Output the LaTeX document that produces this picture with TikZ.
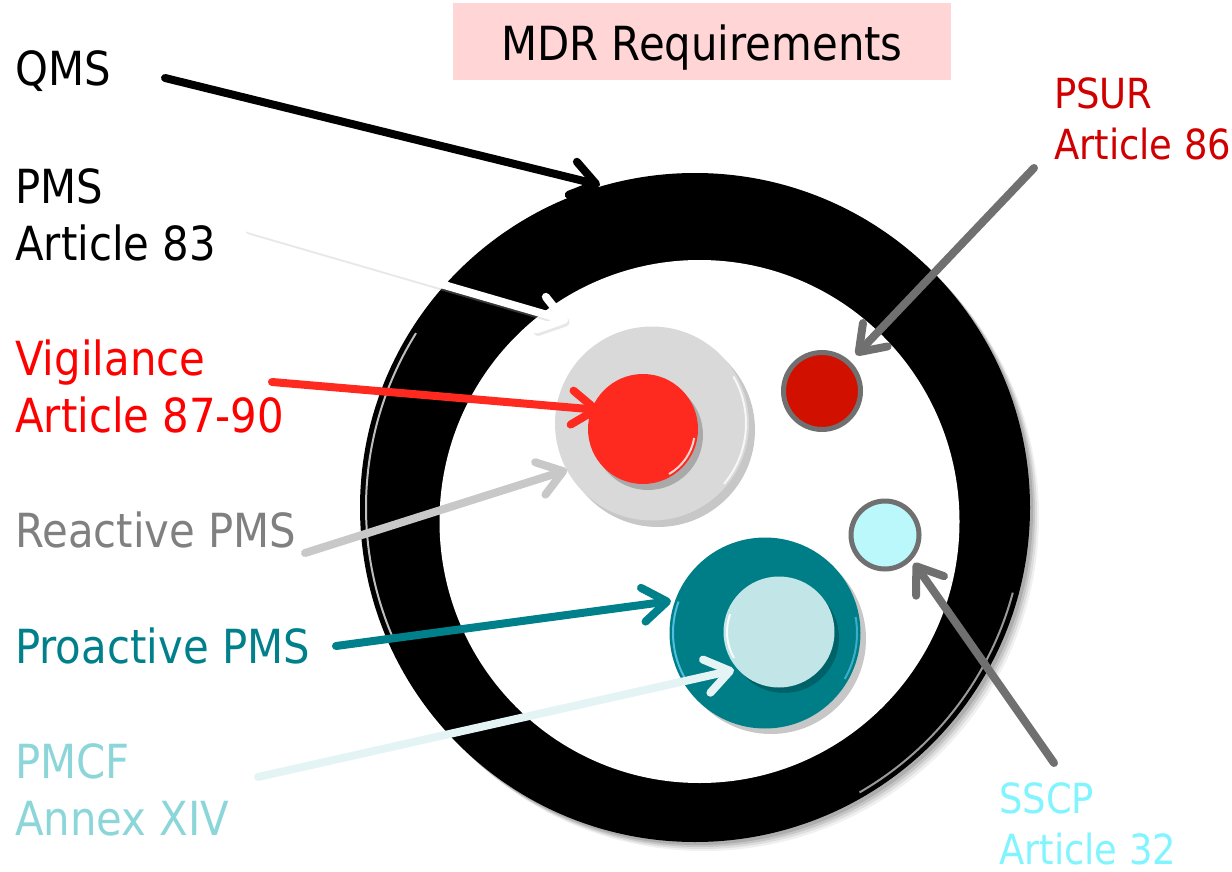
\documentclass[tikz,border=0pt]{standalone}
\usepackage{fontspec}
\setmainfont{DejaVu Sans}[FakeStretch=0.89]
\usetikzlibrary{arrows.meta}
\definecolor{pinkbox}{HTML}{FFD5D5}
\definecolor{vigred}{HTML}{FF2A1F}
\definecolor{psurred}{HTML}{D00000}
\definecolor{darkredfill}{HTML}{D21000}
\definecolor{rimgray}{HTML}{707070}
\definecolor{reactgray}{HTML}{808080}
\definecolor{reactarrow}{HTML}{C8C8C8}
\definecolor{discgray}{HTML}{D9D9D9}
\definecolor{tealc}{HTML}{00808A}
\definecolor{tealdisc}{HTML}{007E87}
\definecolor{lightteal}{HTML}{C2E6E8}
\definecolor{pmcftext}{HTML}{8CD6DA}
\definecolor{pmcfarrow}{HTML}{E4F4F5}
\definecolor{sscptext}{HTML}{80F4FF}
\definecolor{cyandisc}{HTML}{BAF8FC}
\begin{document}
\begin{tikzpicture}[x=1pt,y=-1pt,
  lbl/.style={anchor=base west, inner sep=0pt, font=\fontsize{47}{57}\selectfont, align=left},
  slbl/.style={anchor=base west, inner sep=0pt, font=\fontsize{41.5}{51}\selectfont, align=left},
  arr/.style={line width=8pt, line cap=round, -{Straight Barb[length=24pt,width=34pt,round]}},
  disc/.style={circle, inner sep=0pt},
  dshadow/.style={fill=black, opacity=0.22}]
\useasboundingbox (0,0) rectangle (1232,872);

% title
\node[fill=pinkbox, minimum width=498pt, minimum height=77pt, text height=45pt, text depth=6pt,
      inner sep=0pt, font=\fontsize{47}{57}\selectfont] (title) at (702,41.5) {MDR Requirements};

% ring with soft shadow
\foreach \d/\o in {9/0.06,7/0.08,5/0.1,3/0.12}
  \fill[black, opacity=\o] (695+\d,507.5+\d) circle[x radius=335, y radius=334.5];
\fill[black] (695,507.5) circle[x radius=335, y radius=334.5];
\fill[white] (699.5,521.5) circle[x radius=260, y radius=261.5];
\draw[white, line width=2pt, opacity=0.75] (695,507.5) ++(156:329) arc[start angle=156, end angle=212, radius=329];
\draw[white, line width=2pt, opacity=0.6] (695,507.5) ++(15:329) arc[start angle=15, end angle=60, radius=329];

% discs with shadows
\fill[dshadow] (658,430) circle[radius=97];
\node[disc, fill=discgray, minimum size=194pt] (reactive) at (652,423.5) {};
\draw[white, line width=2pt, opacity=0.8] (652,423.5) ++(-30:94) arc[start angle=-30, end angle=40, radius=94];
\fill[dshadow] (648,435) circle[radius=55];
\node[disc, fill=vigred, minimum size=110pt] (vigilance) at (643,429) {};
\draw[white, line width=2pt, opacity=0.8] (643,429) ++(10:52) arc[start angle=10, end angle=60, radius=52];

\fill[dshadow] (771,639) circle[radius=95];
\node[disc, fill=tealdisc, minimum size=191pt] (proactive) at (765,633) {};
\draw[cyan!60, line width=2pt, opacity=0.8] (765,633) ++(150:92) arc[start angle=150, end angle=200, radius=92];
\draw[cyan!60, line width=2pt, opacity=0.6] (765,633) ++(-10:92) arc[start angle=-10, end angle=30, radius=92];
\fill[dshadow] (784,638) circle[radius=55];
\node[disc, fill=lightteal, minimum size=111pt] (pmcf) at (779,632) {};
\draw[white, line width=2pt, opacity=0.9] (779,632) ++(150:52) arc[start angle=150, end angle=200, radius=52];

\node[disc, draw=rimgray, line width=5pt, fill=darkredfill, minimum size=77pt] (psur) at (822,391) {};
\node[disc, draw=rimgray, line width=5pt, fill=cyandisc, minimum size=68pt] (sscp) at (885,535) {};

% labels (base anchor = baseline of last line)
\node[lbl] (lqms) at (15,86) {QMS};
\node[lbl] (lpms) at (15,260) {PMS\\Article 83};
\node[lbl, text=red] (lvig) at (15,432) {Vigilance\\Article 87-90};
\node[lbl, text=reactgray] (lreact) at (15,547) {Reactive PMS};
\node[lbl, text=tealc] (lpro) at (15,663) {Proactive PMS};
\node[lbl, text=pmcftext] (lpmcf) at (15,835) {PMCF\\Annex XIV};
\node[slbl, text=psurred] (lpsur) at (1054,160) {PSUR\\Article 86};
\node[slbl, text=sscptext] (lsscp) at (999,864) {SSCP\\Article 32};

% arrow endpoints
\coordinate (qmsS) at (165,78);   \coordinate (qmsT) at (600,185);
\coordinate (pmsS) at (248,228);  \coordinate (pmsT) at (568,321);
\coordinate (vigS) at (272,382);  \coordinate (vigT) at (600,410);
\coordinate (reaS) at (305,553);  \coordinate (reaT) at (567,470);
\coordinate (proS) at (336,646);  \coordinate (proT) at (671,601);
\coordinate (pmcfS) at (258,777); \coordinate (pmcfT) at (734,670);
\coordinate (psurS) at (1034,168);\coordinate (psurT) at (856,355);
\coordinate (sscpS) at (1054,763);\coordinate (sscpT) at (914,563);

% arrows
\draw[arr, black] (qmsS) -- (qmsT);
\draw[arr, black!30, opacity=0.3, transform canvas={shift={(1.5pt,-2.5pt)}}] (pmsS) -- (pmsT);
\draw[arr, white] (pmsS) -- (pmsT);
\draw[arr, vigred] (vigS) -- (vigT);
\draw[arr, reactarrow] (reaS) -- (reaT);
\draw[arr, tealc] (proS) -- (proT);
\draw[arr, pmcfarrow] (pmcfS) -- (pmcfT);
\draw[arr, rimgray] (psurS) -- (psurT);
\draw[arr, rimgray] (sscpS) -- (sscpT);
\end{tikzpicture}
\end{document}
